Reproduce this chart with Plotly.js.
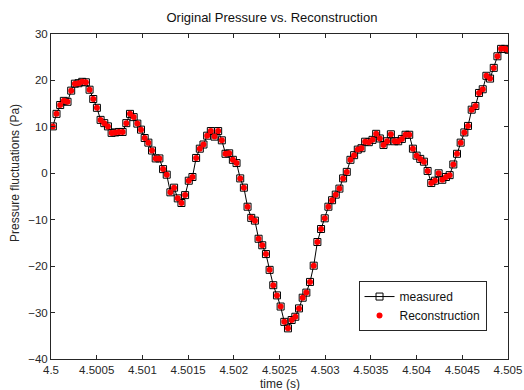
<!DOCTYPE html>
<html>
<head>
<meta charset="utf-8">
<script src="https://cdn.plot.ly/plotly-3.0.1.min.js"></script>
<style>
  html, body { margin: 0; padding: 0; background: #fff; }
  #chart { width: 524px; height: 390px; }
</style>
</head>
<body>
<div id="chart"></div>
<script>
// Sample times (s)
const time = [
  4.5000200, 4.5000602, 4.5001004, 4.5001406, 4.5001808, 4.5002210, 4.5002612, 4.5003014, 4.5003416, 4.5003818,
  4.5004220, 4.5004622, 4.5005024, 4.5005426, 4.5005828, 4.5006230, 4.5006632, 4.5007034, 4.5007436, 4.5007838,
  4.5008240, 4.5008642, 4.5009044, 4.5009446, 4.5009848, 4.5010250, 4.5010652, 4.5011054, 4.5011456, 4.5011858,
  4.5012260, 4.5012662, 4.5013064, 4.5013466, 4.5013868, 4.5014270, 4.5014672, 4.5015074, 4.5015476, 4.5015878,
  4.5016280, 4.5016682, 4.5017084, 4.5017486, 4.5017888, 4.5018290, 4.5018692, 4.5019094, 4.5019496, 4.5019898,
  4.5020300, 4.5020702, 4.5021104, 4.5021506, 4.5021908, 4.5022310, 4.5022712, 4.5023114, 4.5023516, 4.5023918,
  4.5024320, 4.5024722, 4.5025124, 4.5025526, 4.5025928, 4.5026330, 4.5026732, 4.5027134, 4.5027536, 4.5027938,
  4.5028340, 4.5028742, 4.5029144, 4.5029546, 4.5029948, 4.5030350, 4.5030752, 4.5031154, 4.5031556, 4.5031958,
  4.5032360, 4.5032762, 4.5033164, 4.5033566, 4.5033968, 4.5034370, 4.5034772, 4.5035174, 4.5035576, 4.5035978,
  4.5036380, 4.5036782, 4.5037184, 4.5037586, 4.5037988, 4.5038390, 4.5038792, 4.5039194, 4.5039596, 4.5039998,
  4.5040400, 4.5040802, 4.5041204, 4.5041606, 4.5042008, 4.5042410, 4.5042812, 4.5043214, 4.5043616, 4.5044018,
  4.5044420, 4.5044822, 4.5045224, 4.5045626, 4.5046028, 4.5046430, 4.5046832, 4.5047234, 4.5047636, 4.5048038,
  4.5048440, 4.5048842, 4.5049244, 4.5049646, 4.5050048
];

// Measured pressure fluctuations (Pa)
const measured = [
  10.1, 12.8, 14.7, 15.6, 15.4, 17.8, 19.3, 19.4, 19.7, 19.6,
  18.0, 16.0, 14.1, 11.5, 10.8, 10.1, 8.7, 8.8, 8.9, 8.9,
  10.8, 12.8, 12.1, 10.7, 9.4, 7.6, 6.6, 4.9, 3.2, 3.2,
  0.9, -0.3, -4.1, -3.1, -5.4, -6.4, -4.7, -1.6, -0.8, 3.3,
  5.3, 6.2, 8.1, 9.1, 7.9, 9.1, 7.1, 4.2, 4.3, 2.9,
  2.2, -1.1, -3.1, -7.2, -9.6, -10.2, -14.1, -15.5, -17.4, -20.8,
  -24.1, -26.3, -28.7, -32.0, -33.4, -31.6, -30.9, -29.1, -26.8, -25.7,
  -23.4, -19.9, -14.8, -12.0, -9.7, -7.2, -5.8, -4.6, -3.3, -1.1,
  0.3, 2.9, 3.9, 5.1, 5.4, 6.8, 6.7, 7.2, 8.5, 7.5,
  6.1, 6.9, 8.4, 6.9, 6.9, 7.4, 8.3, 8.3, 5.3, 3.8,
  3.1, 2.5, 0.5, -2.1, -1.6, 0.0, -1.4, -0.8, -0.4, 1.9,
  4.2, 6.6, 8.8, 10.2, 13.7, 14.5, 17.3, 18.1, 21.0, 20.4,
  22.7, 25.2, 26.8, 26.8, 26.6
];

// Reconstructed pressure fluctuations (Pa)
const reconstruction = [
  10.1, 12.8, 14.7, 15.6, 15.4, 17.8, 19.3, 19.4, 19.7, 19.6,
  18.0, 16.0, 14.1, 11.5, 10.8, 10.1, 8.7, 8.8, 8.9, 8.9,
  10.8, 12.8, 12.1, 10.7, 9.4, 7.6, 6.6, 4.9, 3.2, 3.2,
  0.9, -0.3, -4.1, -3.1, -5.4, -6.4, -4.7, -1.6, -0.8, 3.3,
  5.3, 6.2, 8.1, 9.1, 7.9, 9.1, 7.1, 4.2, 4.3, 2.9,
  2.2, -1.1, -3.1, -7.2, -9.6, -10.2, -14.1, -15.5, -17.4, -20.8,
  -24.1, -26.3, -28.7, -32.0, -33.4, -31.6, -30.9, -29.1, -26.8, -25.7,
  -23.4, -19.9, -14.8, -12.0, -9.7, -7.2, -5.8, -4.6, -3.3, -1.1,
  0.3, 2.9, 3.9, 5.1, 5.4, 6.8, 6.7, 7.2, 8.5, 7.5,
  6.1, 6.9, 8.4, 6.9, 6.9, 7.4, 8.3, 8.3, 5.3, 3.8,
  3.1, 2.5, 0.5, -2.1, -1.6, 0.0, -1.4, -0.8, -0.4, 1.9,
  4.2, 6.6, 8.8, 10.2, 13.7, 14.5, 17.3, 18.1, 21.0, 20.4,
  22.7, 25.2, 26.8, 26.8, 26.6
];

// Axis ticks
const xTickVals = [4.5, 4.5005, 4.501, 4.5015, 4.502, 4.5025, 4.503, 4.5035, 4.504, 4.5045, 4.505];
const xTickText = ['4.5', '4.5005', '4.501', '4.5015', '4.502', '4.5025', '4.503', '4.5035', '4.504', '4.5045', '4.505'];
const yTickVals = [-40, -30, -20, -10, 0, 10, 20, 30];

const FONT = 'Liberation Sans, Arial, sans-serif';
const INK = '#262626';

const traces = [
  {
    x: time, y: measured, name: 'measured', type: 'scatter', mode: 'lines+markers',
    line: { color: '#000', width: 1 },
    marker: { symbol: 'square-open', size: 7, color: '#000', line: { width: 1, color: '#000' } }
  },
  {
    x: time, y: reconstruction, name: 'Reconstruction', type: 'scatter', mode: 'markers',
    marker: { symbol: 'circle', size: 6, color: '#ff0000' }
  }
];

const axisCommon = {
  showgrid: false, zeroline: false,
  showline: true, mirror: 'ticks', linecolor: INK, linewidth: 1,
  ticks: 'inside', ticklen: 4, tickwidth: 1, tickcolor: INK,
  tickfont: { family: FONT, size: 11.5, color: INK }
};

const layout = {
  width: 524, height: 390,
  margin: { l: 51, r: 16, t: 34, b: 31 },
  paper_bgcolor: '#fff', plot_bgcolor: '#fff',
  showlegend: true,
  title: {
    text: 'Original Pressure vs. Reconstruction',
    font: { family: FONT, size: 13, color: '#111' },
    xref: 'container', x: 0.519, xanchor: 'center',
    yref: 'container', y: 0.954, yanchor: 'middle'
  },
  xaxis: Object.assign({}, axisCommon, {
    range: [4.5, 4.505],
    tickmode: 'array', tickvals: xTickVals, ticktext: xTickText
  }),
  yaxis: Object.assign({}, axisCommon, {
    range: [-40, 30],
    tickmode: 'array', tickvals: yTickVals
  }),
  annotations: [
    {
      text: 'time (s)', xref: 'paper', yref: 'paper', x: 0.5, y: -0.077,
      xanchor: 'center', yanchor: 'middle', showarrow: false,
      font: { family: FONT, size: 12, color: INK }
    },
    {
      text: 'Pressure fluctuations (Pa)', xref: 'paper', yref: 'paper', x: -0.079, y: 0.572,
      xanchor: 'center', yanchor: 'middle', showarrow: false, textangle: -90,
      font: { family: FONT, size: 12, color: INK }
    }
  ],
  legend: {
    x: 0.953, xanchor: 'right', y: 0.086, yanchor: 'bottom',
    bgcolor: '#fff', bordercolor: INK, borderwidth: 1,
    font: { family: FONT, size: 12, color: '#111' },
    tracegroupgap: 0
  }
};

Plotly.newPlot('chart', traces, layout, { displayModeBar: false, staticPlot: true });
</script>
</body>
</html>
